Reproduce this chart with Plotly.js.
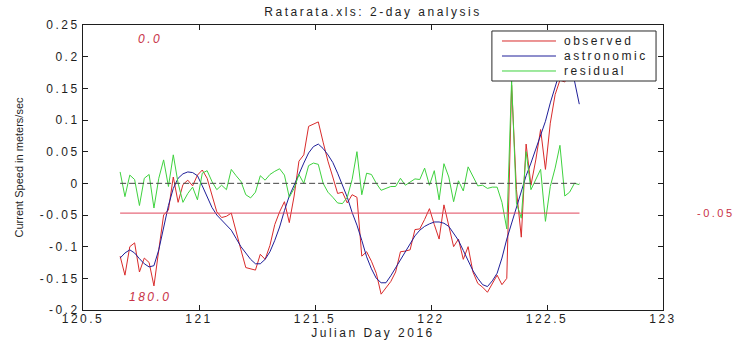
<!DOCTYPE html>
<html><head><meta charset="utf-8">
<script src="https://cdn.plot.ly/plotly-3.0.1.min.js"></script>
<style>
html,body{margin:0;padding:0;background:#fff;}
#chart{width:734px;height:342px;}
.gtitle, .xtitle, g.xtick text, g.ytick text, .legendtext, .annotation-text{letter-spacing:2.5px;}
</style></head><body><div id="chart"></div>
<script>
// time grid (Julian day), half-hour sampling
var startDay = 120.66;
var stepDay = 1 / 48;

var seriesNames = ['observed', 'astronomic', 'residual'];

var observed = [-0.115,-0.145,-0.100,-0.094,-0.140,-0.118,-0.125,-0.162,-0.105,-0.050,
 -0.042,0.010,-0.030,-0.002,0.005,-0.004,0.013,0.021,0.008,-0.018,
 -0.045,-0.054,-0.052,-0.047,-0.078,-0.105,-0.133,-0.135,-0.137,-0.112,
 -0.120,-0.098,-0.065,-0.045,-0.029,-0.062,-0.020,0.035,0.045,0.090,
 0.094,0.097,0.065,0.035,0.010,-0.016,-0.014,-0.031,-0.018,-0.022,
 -0.115,-0.108,-0.123,-0.142,-0.175,-0.165,-0.155,-0.140,-0.108,-0.107,
 -0.105,-0.073,-0.072,-0.057,-0.040,-0.065,-0.088,-0.034,-0.065,-0.100,
 -0.088,-0.120,-0.100,-0.140,-0.158,-0.164,-0.172,-0.158,-0.145,-0.160,
 -0.150,0.155,-0.010,-0.085,0.062,-0.003,0.037,0.085,0.022,0.095,
 0.140,0.163,0.160,0.175,0.190,0.190];

var astronomic = [-0.118,-0.110,-0.105,-0.110,-0.119,-0.127,-0.132,-0.130,-0.105,-0.068,
 -0.035,-0.008,0.008,0.015,0.018,0.017,0.012,-0.004,-0.022,-0.038,
 -0.050,-0.058,-0.066,-0.074,-0.087,-0.100,-0.110,-0.120,-0.127,-0.127,
 -0.120,-0.108,-0.090,-0.069,-0.043,-0.020,-0.003,0.015,0.032,0.048,
 0.058,0.062,0.055,0.045,0.033,0.016,-0.004,-0.022,-0.046,-0.066,
 -0.090,-0.116,-0.135,-0.150,-0.157,-0.157,-0.146,-0.133,-0.120,-0.108,
 -0.095,-0.083,-0.074,-0.068,-0.064,-0.061,-0.061,-0.063,-0.068,-0.079,
 -0.090,-0.106,-0.123,-0.138,-0.150,-0.160,-0.163,-0.154,-0.142,-0.118,
 -0.088,-0.063,-0.035,-0.012,0.012,0.032,0.053,0.076,0.098,0.127,
 0.152,0.177,0.190,0.193,0.162,0.125];

var residual = [0.018,-0.021,0.013,0.006,-0.035,0.008,0.014,-0.039,0.008,0.037,
 -0.005,0.045,0.000,-0.030,-0.016,-0.006,-0.026,0.016,0.020,0.003,
 -0.010,-0.003,-0.010,0.022,0.012,0.003,-0.018,-0.023,-0.014,0.012,
 0.005,0.014,0.019,0.023,0.013,-0.022,-0.008,0.014,0.000,0.028,
 0.032,0.030,0.000,-0.014,-0.022,-0.031,-0.032,-0.022,0.006,0.050,
 -0.018,0.016,0.014,0.000,-0.011,-0.008,-0.005,-0.005,0.008,-0.003,
 0.002,0.007,0.006,0.024,-0.003,0.020,-0.026,0.031,0.010,-0.029,
 0.004,-0.012,0.026,0.012,-0.004,-0.003,-0.008,-0.006,-0.006,-0.030,
 -0.072,0.163,-0.031,-0.055,0.050,-0.010,0.005,0.022,-0.060,-0.005,
 0.024,0.060,-0.020,-0.014,0.000,-0.002];

// reference lines
var refLineX = [120.66, 122.64];
var zeroLine = [0, 0];
var meanLine = [-0.047, -0.047];

// axis ticks
var xTickVals = [120.5, 121, 121.5, 122, 122.5, 123];
var xTickText = ['120.5', '121', '121.5', '122', '122.5', '123'];
var yTickVals = [0.25, 0.2, 0.15, 0.1, 0.05, 0, -0.05, -0.1, -0.15, -0.2];
var yTickText = ['0.25', '0.2', '0.15', '0.1', '0.05', '0', '-0.05', '-0.1', '-0.15', '-0.2'];

// direction labels
var dirLabels = ['0.0', '180.0'];
var dirLabelX = [120.79, 120.79];
var dirLabelY = [0.228, -0.18];
var meanLabel = '-0.05';

var FONT = 'Liberation Sans, Arial, Helvetica, sans-serif';
var INK = '#1e1e1e';
var LABEL_RED = '#c83246';
var seriesColors = ['#d92b2b', '#1f1f99', '#3fd23f'];
var seriesData = [observed, astronomic, residual];

var traces = seriesData.map(function (ys, i) {
  return {type: 'scatter', mode: 'lines', name: seriesNames[i], x0: startDay, dx: stepDay, y: ys,
          line: {color: seriesColors[i], width: 1}, hoverinfo: 'skip', showlegend: false};
});
traces.push({type: 'scatter', mode: 'lines', x: refLineX, y: zeroLine, showlegend: false,
   line: {color: '#444444', width: 1, dash: '6px,3px'}, hoverinfo: 'skip'});
traces.push({type: 'scatter', mode: 'lines', x: refLineX, y: meanLine, showlegend: false,
   line: {color: '#e0465c', width: 1}, hoverinfo: 'skip'});

var annotations = dirLabels.map(function (t, i) {
  return {x: dirLabelX[i], y: dirLabelY[i], xref: 'x', yref: 'y', text: t, showarrow: false,
          xanchor: 'center', yanchor: 'middle',
          font: {family: FONT, size: 12, color: LABEL_RED, style: 'italic'}};
});
annotations.push({xref: 'paper', yref: 'y', x: 1.057, y: meanLine[0], text: meanLabel,
  showarrow: false, xanchor: 'left', yanchor: 'middle', borderpad: 0,
  font: {family: FONT, size: 11, color: LABEL_RED}});

// legend box (paper coordinates), MATLAB style
var legBox = {x0: 0.705, x1: 0.988, y0: 0.8035, y1: 0.979};
var legRowY = [0.9439, 0.8912, 0.8386];
var legLineX = [0.7224, 0.8155];
var legTextX = 0.826;
var shapes = [{type: 'rect', xref: 'paper', yref: 'paper', x0: legBox.x0, x1: legBox.x1,
  y0: legBox.y0, y1: legBox.y1, fillcolor: '#ffffff', line: {color: '#2a2a2a', width: 1}, layer: 'above'}];
seriesNames.forEach(function (nm, i) {
  shapes.push({type: 'line', xref: 'paper', yref: 'paper', x0: legLineX[0], x1: legLineX[1],
    y0: legRowY[i], y1: legRowY[i], line: {color: seriesColors[i], width: 1}, layer: 'above'});
  annotations.push({xref: 'paper', yref: 'paper', x: legTextX, y: legRowY[i], text: nm,
    showarrow: false, xanchor: 'left', yanchor: 'middle',
    font: {family: FONT, size: 12, color: INK}});
});

var axisCommon = {
  showgrid: false, zeroline: false, showline: true, linecolor: INK, linewidth: 1,
  mirror: 'ticks', ticks: 'inside', ticklen: 5, tickcolor: INK, tickwidth: 1,
  tickfont: {family: FONT, size: 12, color: INK}, automargin: false, tickmode: 'array'
};

var layout = {
  width: 734, height: 342,
  margin: {l: 83, r: 71, t: 25, b: 32, pad: 0},
  paper_bgcolor: '#ffffff', plot_bgcolor: '#ffffff',
  showlegend: false,
  title: {text: 'Ratarata.xls: 2-day analysis', x: 0.5, xref: 'paper', xanchor: 'center',
          y: 0.965, yref: 'container', yanchor: 'middle',
          font: {family: FONT, size: 12, color: INK}},
  xaxis: Object.assign({}, axisCommon, {
    range: [120.5, 123], tickvals: xTickVals, ticktext: xTickText, ticklabelstandoff: -2,
    title: {text: 'Julian Day 2016', standoff: 1, font: {family: FONT, size: 12, color: INK}}
  }),
  yaxis: Object.assign({}, axisCommon, {
    range: [-0.2, 0.25], tickvals: yTickVals, ticktext: yTickText,
    title: {text: 'Current Speed in meters/sec', standoff: 13, font: {family: FONT, size: 11, color: INK}}
  }),
  shapes: shapes,
  annotations: annotations
};

Plotly.newPlot('chart', traces, layout, {staticPlot: true, displayModeBar: false});
</script></body></html>
